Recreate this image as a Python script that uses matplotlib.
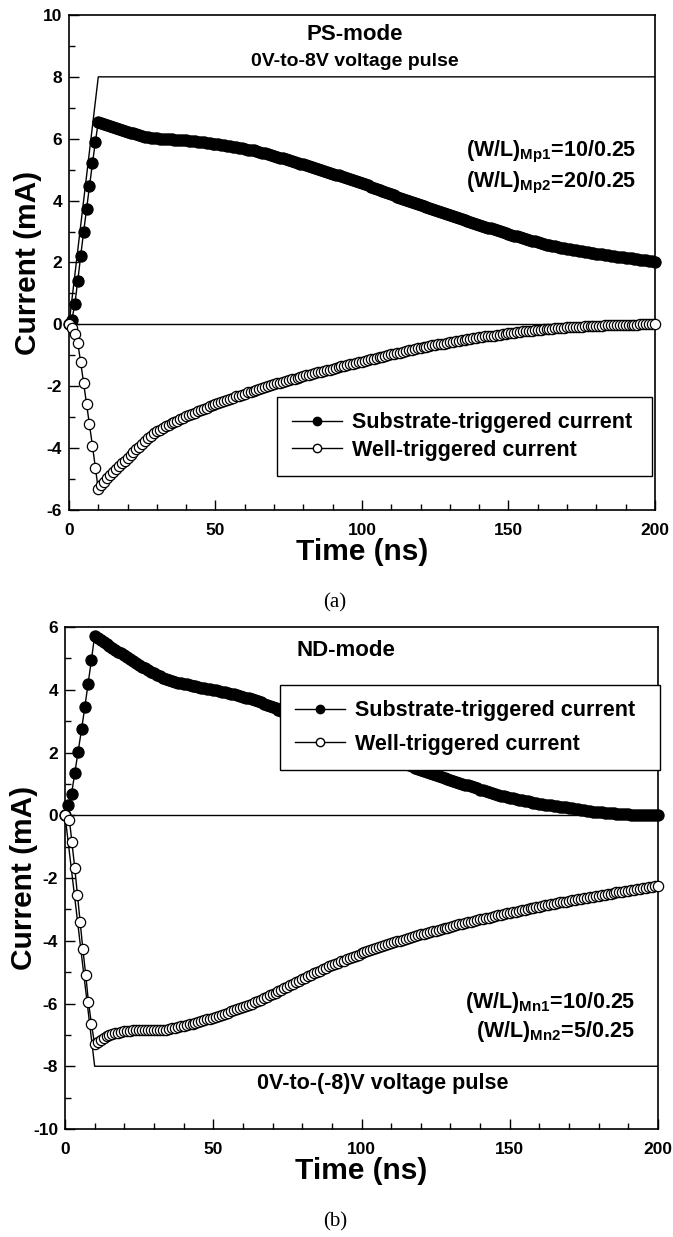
import matplotlib
matplotlib.use("Agg")
import matplotlib.pyplot as plt
from matplotlib.lines import Line2D

plt.rcParams['font.family'] = ['Liberation Sans', 'DejaVu Sans']
plt.rcParams['font.weight'] = 'bold'
plt.rcParams['mathtext.fontset'] = 'custom'
plt.rcParams['mathtext.rm'] = 'Liberation Sans:bold'
plt.rcParams['mathtext.bf'] = 'Liberation Sans:bold'
plt.rcParams['axes.unicode_minus'] = False

# ---- data ----
pulse_t = [0, 10, 200]
pulse_a = [0, 8, 8]
pulse_b = [0, -8, -8]

dense_t = list(range(10, 201))

# (a) PS-mode
a_sub_rise_t = [0, 1, 2, 3, 4, 5, 6, 7, 8, 9]
a_sub_rise = [0.00, 0.15, 0.66, 1.41, 2.22, 2.99, 3.73, 4.47, 5.20, 5.89]
a_well_rise_t = [0, 1, 2, 3, 4, 5, 6, 7, 8, 9]
a_well_rise = [0.00, -0.11, -0.30, -0.61, -1.23, -1.90, -2.57, -3.23, -3.92, -4.63]

a_sub = [6.55, 6.52, 6.49, 6.45, 6.42, 6.39, 6.36, 6.32, 6.29, 6.26,
         6.23, 6.20, 6.17, 6.14, 6.11, 6.09, 6.07, 6.05, 6.03, 6.02,
         6.01, 6.00, 6.00, 5.99, 5.99, 5.98, 5.97, 5.97, 5.96, 5.95,
         5.95, 5.94, 5.93, 5.92, 5.91, 5.90, 5.88, 5.87, 5.86, 5.84,
         5.83, 5.82, 5.80, 5.79, 5.77, 5.76, 5.74, 5.72, 5.71, 5.69,
         5.67, 5.65, 5.63, 5.62, 5.60, 5.58, 5.55, 5.53, 5.50, 5.48,
         5.45, 5.42, 5.39, 5.37, 5.34, 5.31, 5.28, 5.25, 5.22, 5.19,
         5.17, 5.14, 5.11, 5.08, 5.05, 5.02, 4.99, 4.96, 4.93, 4.90,
         4.87, 4.84, 4.82, 4.79, 4.76, 4.73, 4.70, 4.67, 4.63, 4.60,
         4.56, 4.53, 4.49, 4.45, 4.42, 4.38, 4.35, 4.31, 4.27, 4.24,
         4.20, 4.17, 4.13, 4.09, 4.06, 4.02, 3.99, 3.95, 3.92, 3.89,
         3.86, 3.82, 3.79, 3.76, 3.73, 3.69, 3.66, 3.63, 3.60, 3.56,
         3.53, 3.50, 3.47, 3.43, 3.40, 3.37, 3.34, 3.30, 3.27, 3.24,
         3.21, 3.19, 3.16, 3.13, 3.10, 3.07, 3.04, 3.02, 2.99, 2.96,
         2.93, 2.90, 2.87, 2.85, 2.82, 2.79, 2.76, 2.73, 2.70, 2.68,
         2.65, 2.62, 2.60, 2.58, 2.56, 2.54, 2.52, 2.50, 2.48, 2.46,
         2.44, 2.43, 2.41, 2.39, 2.37, 2.36, 2.34, 2.33, 2.31, 2.30,
         2.29, 2.27, 2.26, 2.25, 2.23, 2.22, 2.21, 2.19, 2.18, 2.17,
         2.16, 2.14, 2.13, 2.12, 2.10, 2.09, 2.08, 2.07, 2.05, 2.04,
         2.03]

a_well = [-5.33, -5.20, -5.08, -4.98, -4.88, -4.78, -4.68, -4.58, -4.49, -4.40,
          -4.31, -4.22, -4.13, -4.04, -3.95, -3.86, -3.77, -3.68, -3.60, -3.52,
          -3.46, -3.41, -3.35, -3.30, -3.25, -3.20, -3.15, -3.11, -3.06, -3.02,
          -2.97, -2.93, -2.89, -2.85, -2.81, -2.77, -2.73, -2.69, -2.65, -2.61,
          -2.57, -2.54, -2.50, -2.47, -2.43, -2.40, -2.37, -2.33, -2.30, -2.27,
          -2.24, -2.20, -2.17, -2.14, -2.11, -2.08, -2.05, -2.03, -2.00, -1.97,
          -1.94, -1.91, -1.88, -1.86, -1.83, -1.80, -1.78, -1.75, -1.73, -1.70,
          -1.68, -1.65, -1.63, -1.60, -1.58, -1.55, -1.53, -1.51, -1.48, -1.46,
          -1.43, -1.41, -1.39, -1.36, -1.34, -1.32, -1.29, -1.27, -1.25, -1.22,
          -1.20, -1.18, -1.15, -1.13, -1.11, -1.08, -1.06, -1.04, -1.02, -0.99,
          -0.97, -0.95, -0.93, -0.91, -0.88, -0.86, -0.84, -0.82, -0.79, -0.77,
          -0.75, -0.73, -0.72, -0.70, -0.68, -0.67, -0.65, -0.63, -0.62, -0.60,
          -0.58, -0.57, -0.55, -0.53, -0.52, -0.50, -0.48, -0.47, -0.45, -0.44,
          -0.42, -0.41, -0.39, -0.38, -0.37, -0.36, -0.34, -0.33, -0.32, -0.31,
          -0.29, -0.28, -0.27, -0.26, -0.24, -0.23, -0.22, -0.21, -0.20, -0.19,
          -0.18, -0.17, -0.16, -0.16, -0.15, -0.14, -0.13, -0.12, -0.12, -0.11,
          -0.10, -0.09, -0.09, -0.08, -0.07, -0.07, -0.06, -0.06, -0.05, -0.05,
          -0.04, -0.04, -0.04, -0.03, -0.03, -0.03, -0.02, -0.02, -0.02, -0.02,
          -0.01, -0.01, -0.01, -0.01, -0.01, 0.00, 0.00, 0.00, 0.00, 0.00,
          0.00]

# (b) ND-mode
b_sub_rise_t = [0, 1.1, 2.2, 3.3, 4.4, 5.6, 6.7, 7.8, 8.9]
b_sub_rise = [0.00, 0.32, 0.68, 1.35, 2.03, 2.75, 3.46, 4.20, 4.95]
b_well_rise_t = [0, 1.5, 2.3, 3.3, 4.2, 5.1, 6.0, 7.0, 7.9, 8.9]
b_well_rise = [0.00, -0.16, -0.85, -1.69, -2.55, -3.40, -4.25, -5.10, -5.94, -6.65]

b_sub = [5.73, 5.66, 5.60, 5.53, 5.47, 5.41, 5.34, 5.28, 5.22, 5.16,
         5.10, 5.04, 4.98, 4.92, 4.86, 4.80, 4.74, 4.68, 4.62, 4.57,
         4.52, 4.47, 4.43, 4.39, 4.35, 4.32, 4.29, 4.26, 4.23, 4.21,
         4.19, 4.17, 4.15, 4.13, 4.11, 4.09, 4.07, 4.05, 4.04, 4.02,
         4.00, 3.98, 3.96, 3.94, 3.92, 3.89, 3.87, 3.85, 3.82, 3.80,
         3.78, 3.75, 3.73, 3.70, 3.67, 3.64, 3.60, 3.56, 3.53, 3.49,
         3.45, 3.41, 3.37, 3.33, 3.29, 3.25, 3.21, 3.17, 3.13, 3.09,
         3.05, 3.01, 2.96, 2.92, 2.88, 2.84, 2.79, 2.75, 2.71, 2.66,
         2.62, 2.58, 2.54, 2.49, 2.45, 2.41, 2.37, 2.33, 2.28, 2.24,
         2.20, 2.16, 2.12, 2.08, 2.04, 2.00, 1.96, 1.92, 1.88, 1.84,
         1.80, 1.76, 1.73, 1.69, 1.66, 1.62, 1.59, 1.56, 1.52, 1.49,
         1.45, 1.42, 1.39, 1.36, 1.32, 1.29, 1.26, 1.23, 1.20, 1.17,
         1.14, 1.10, 1.07, 1.04, 1.01, 0.98, 0.95, 0.92, 0.89, 0.86,
         0.82, 0.79, 0.76, 0.73, 0.71, 0.68, 0.65, 0.63, 0.60, 0.58,
         0.56, 0.54, 0.52, 0.50, 0.48, 0.46, 0.44, 0.42, 0.40, 0.39,
         0.37, 0.36, 0.34, 0.33, 0.32, 0.30, 0.29, 0.27, 0.26, 0.25,
         0.23, 0.22, 0.20, 0.19, 0.18, 0.16, 0.15, 0.14, 0.12, 0.11,
         0.10, 0.09, 0.08, 0.07, 0.06, 0.06, 0.05, 0.04, 0.04, 0.03,
         0.03, 0.02, 0.02, 0.02, 0.01, 0.01, 0.01, 0.00, 0.00, 0.00,
         0.00]

b_well = [-7.30, -7.22, -7.16, -7.10, -7.05, -7.01, -6.98, -6.95, -6.93, -6.91,
          -6.89, -6.88, -6.87, -6.86, -6.86, -6.85, -6.85, -6.85, -6.85, -6.85,
          -6.85, -6.85, -6.84, -6.84, -6.83, -6.81, -6.79, -6.77, -6.75, -6.73,
          -6.71, -6.69, -6.66, -6.64, -6.61, -6.58, -6.56, -6.53, -6.50, -6.48,
          -6.45, -6.42, -6.39, -6.36, -6.32, -6.29, -6.25, -6.22, -6.18, -6.15,
          -6.12, -6.08, -6.05, -6.01, -5.96, -5.92, -5.88, -5.83, -5.79, -5.74,
          -5.70, -5.65, -5.60, -5.56, -5.51, -5.46, -5.41, -5.37, -5.32, -5.27,
          -5.22, -5.18, -5.13, -5.09, -5.04, -5.00, -4.96, -4.91, -4.87, -4.82,
          -4.78, -4.74, -4.70, -4.66, -4.63, -4.59, -4.55, -4.51, -4.47, -4.44,
          -4.40, -4.37, -4.34, -4.30, -4.27, -4.24, -4.21, -4.18, -4.14, -4.11,
          -4.08, -4.05, -4.02, -4.00, -3.97, -3.94, -3.91, -3.88, -3.86, -3.83,
          -3.80, -3.78, -3.75, -3.73, -3.70, -3.68, -3.65, -3.63, -3.60, -3.58,
          -3.55, -3.53, -3.51, -3.48, -3.46, -3.44, -3.41, -3.39, -3.37, -3.34,
          -3.32, -3.30, -3.28, -3.26, -3.24, -3.22, -3.19, -3.17, -3.15, -3.13,
          -3.11, -3.09, -3.07, -3.05, -3.03, -3.01, -2.99, -2.97, -2.95, -2.93,
          -2.91, -2.89, -2.87, -2.86, -2.84, -2.82, -2.80, -2.78, -2.77, -2.75,
          -2.73, -2.71, -2.70, -2.68, -2.66, -2.65, -2.63, -2.61, -2.59, -2.58,
          -2.56, -2.54, -2.53, -2.51, -2.50, -2.48, -2.46, -2.45, -2.43, -2.42,
          -2.40, -2.38, -2.37, -2.35, -2.34, -2.32, -2.31, -2.29, -2.28, -2.26,
          -2.25]

legend_labels = ["Substrate-triggered current", "Well-triggered current"]


def draw_series(ax, t_rise, v_rise, v_dense, face, ms):
    ax.plot(t_rise + dense_t, v_rise + v_dense, color='black', lw=1.0,
            marker='o', ms=ms, mfc=face, mec='black', mew=0.9, clip_on=False, zorder=3)


def style_axes(ax, ylo, yhi):
    ax.set_xlim(0, 200)
    ax.set_ylim(ylo, yhi)
    ax.set_xticks([0, 50, 100, 150, 200])
    ax.set_xticks(range(0, 201, 10), minor=True)
    ax.set_yticks(range(ylo, yhi + 1, 2))
    ax.set_yticks(range(ylo, yhi + 1, 1), minor=True)
    ax.tick_params(which='both', direction='in', width=1.0, labelsize=12.5)
    ax.tick_params(which='major', length=7)
    ax.tick_params(which='minor', length=4)
    ax.tick_params(axis='x', pad=9)
    ax.tick_params(axis='y', pad=5)
    for s in ax.spines.values():
        s.set_linewidth(1.2)
    ax.axhline(0, color='black', lw=1.0, zorder=2)
    ax.set_xlabel("Time (ns)", fontsize=21.5, fontweight='bold', labelpad=0)
    ax.set_ylabel("Current (mA)", fontsize=21.5, fontweight='bold')
    ax.yaxis.set_label_coords(-0.046, 0.5)


def add_legend(ax, bbox, spacing):
    handles = [Line2D([], [], color='black', lw=1.0, marker='o', ms=6, mfc='black', mec='black'),
               Line2D([], [], color='black', lw=1.0, marker='o', ms=6, mfc='white', mec='black')]
    leg = ax.legend(handles, legend_labels, loc='upper left', bbox_to_anchor=bbox, mode='expand',
                    fancybox=False, frameon=True, edgecolor='black', framealpha=1,
                    prop={'size': 15.5, 'weight': 'bold'}, handlelength=2.3,
                    labelspacing=spacing, borderpad=0.7, handletextpad=0.5, borderaxespad=0)
    leg.get_frame().set_linewidth(1.0)


fig = plt.figure(figsize=(6.73, 12.37), dpi=100)
ax1 = fig.add_axes([0.1025, 0.5877, 0.8707, 0.4002])
ax2 = fig.add_axes([0.0966, 0.0873, 0.8811, 0.4058])

# panel (a)
ax1.plot(pulse_t, pulse_a, color='black', lw=1.0, zorder=2)
draw_series(ax1, a_sub_rise_t, a_sub_rise, a_sub, 'black', 8.0)
draw_series(ax1, a_well_rise_t, a_well_rise, a_well, 'white', 7.4)
style_axes(ax1, -6, 10)
add_legend(ax1, (0.355, 0.228, 0.64, 0.0), 0.3)
ax1.text(0.488, 0.96, "PS-mode", transform=ax1.transAxes, ha='center', va='center',
         fontsize=16, fontweight='bold')
ax1.text(0.488, 0.905, "0V-to-8V voltage pulse", transform=ax1.transAxes, ha='center', va='center',
         fontsize=14, fontweight='bold')
ax1.text(0.9676, 0.723, r"(W/L)$_{\mathrm{Mp1}}$=10/0.25", transform=ax1.transAxes,
         ha='right', va='center', fontsize=15.5, fontweight='bold')
ax1.text(0.9676, 0.661, r"(W/L)$_{\mathrm{Mp2}}$=20/0.25", transform=ax1.transAxes,
         ha='right', va='center', fontsize=15.5, fontweight='bold')

# panel (b)
ax2.plot(pulse_t, pulse_b, color='black', lw=1.0, zorder=2)
draw_series(ax2, b_sub_rise_t, b_sub_rise, b_sub, 'black', 8.0)
draw_series(ax2, b_well_rise_t, b_well_rise, b_well, 'white', 7.4)
style_axes(ax2, -10, 6)
add_legend(ax2, (0.3626, 0.8845, 0.641, 0.0), 0.6)
ax2.text(0.391, 0.954, "ND-mode", transform=ax2.transAxes, ha='left', va='center',
         fontsize=16, fontweight='bold')
ax2.text(0.324, 0.0916, "0V-to-(-8)V voltage pulse", transform=ax2.transAxes, ha='left', va='center',
         fontsize=15.5, fontweight='bold')
ax2.text(0.961, 0.253, r"(W/L)$_{\mathrm{Mn1}}$=10/0.25", transform=ax2.transAxes,
         ha='right', va='center', fontsize=15.5, fontweight='bold')
ax2.text(0.961, 0.195, r"(W/L)$_{\mathrm{Mn2}}$=5/0.25", transform=ax2.transAxes,
         ha='right', va='center', fontsize=15.5, fontweight='bold')

fig.text(335 / 673, 1 - 603 / 1237, "(a)", ha='center', va='center',
         fontsize=15, fontweight='normal', family='Liberation Serif')
fig.text(335 / 673, 1 - 1222 / 1237, "(b)", ha='center', va='center',
         fontsize=15, fontweight='normal', family='Liberation Serif')

fig.savefig("out.png", dpi=100)
